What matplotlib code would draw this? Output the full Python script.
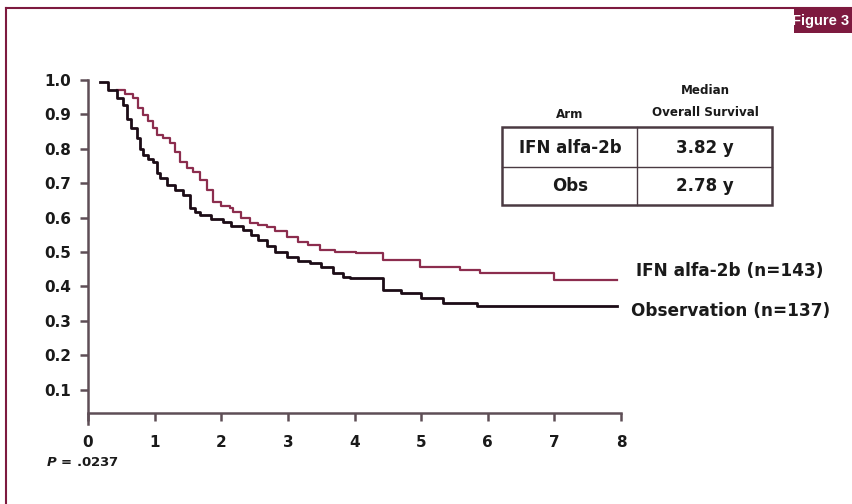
import matplotlib.pyplot as plt
from matplotlib.patches import Rectangle
from matplotlib.lines import Line2D

plt.rcParams['font.family'] = ['DejaVu Sans']
plt.rcParams['font.weight'] = 'bold'

# Observation arm
obs_t = [0.18, 0.30, 0.43, 0.53, 0.58, 0.65, 0.73, 0.78, 0.83, 0.90, 0.98, 1.03,
         1.08, 1.18, 1.30, 1.43, 1.53, 1.60, 1.68, 1.85, 2.03, 2.15, 2.33, 2.45,
         2.55, 2.68, 2.80, 2.98, 3.15, 3.33, 3.50, 3.68, 3.83, 3.93, 4.43, 4.70,
         5.00, 5.33, 5.84, 7.94]
obs_s = [0.995, 0.97, 0.947, 0.927, 0.888, 0.86, 0.83, 0.80, 0.782, 0.77, 0.762, 0.73,
         0.714, 0.695, 0.68, 0.666, 0.627, 0.615, 0.607, 0.595, 0.588, 0.575, 0.564, 0.55,
         0.535, 0.516, 0.50, 0.486, 0.475, 0.467, 0.455, 0.438, 0.428, 0.424, 0.39, 0.38,
         0.365, 0.351, 0.343, 0.343]

# IFN alfa-2b arm
ifn_t = [0.43, 0.55, 0.68, 0.75, 0.83, 0.90, 0.98, 1.03, 1.13, 1.23, 1.30, 1.38,
         1.48, 1.58, 1.68, 1.78, 1.88, 2.00, 2.13, 2.18, 2.30, 2.43, 2.55, 2.68,
         2.80, 2.98, 3.15, 3.30, 3.48, 3.70, 4.03, 4.43, 4.98, 5.59, 5.89, 6.99, 7.94]
ifn_s = [0.971, 0.96, 0.947, 0.92, 0.898, 0.88, 0.86, 0.84, 0.83, 0.816, 0.79, 0.762,
         0.745, 0.733, 0.709, 0.68, 0.646, 0.635, 0.627, 0.617, 0.60, 0.583, 0.578, 0.574,
         0.56, 0.545, 0.53, 0.52, 0.506, 0.50, 0.496, 0.477, 0.457, 0.448, 0.438, 0.42, 0.42]

x_ticks = [0, 1, 2, 3, 4, 5, 6, 7, 8]
y_ticks = [0.1, 0.2, 0.3, 0.4, 0.5, 0.6, 0.7, 0.8, 0.9, 1.0]

table_arm = ['IFN alfa-2b', 'Obs']
table_median = ['3.82 y', '2.78 y']

W, H = 852, 504
maroon = '#7d1a3f'
red = '#8c2d4e'
black = '#1c0c16'
axis_col = '#5e4e56'
txt = '#1a1a1a'


def fx(x):
    return x / W


def fy(y):
    return 1 - y / H


fig = plt.figure(figsize=(8.52, 5.04), dpi=100)
ax = fig.add_axes([fx(88), fy(424), (621 - 88) / W, (424 - 80) / H])

ax.step(ifn_t, ifn_s, where='post', color=red, lw=1.6, clip_on=False)
ax.step(obs_t, obs_s, where='post', color=black, lw=2.0, clip_on=False)

ax.set_xlim(0, 8)
ax.set_ylim(0, 1.0)
ax.set_xticks(x_ticks)
ax.set_yticks(y_ticks)
ax.set_yticklabels(['%.1f' % v for v in y_ticks])
for s in ['top', 'right']:
    ax.spines[s].set_visible(False)
ax.spines['left'].set_bounds(0, 1.0)
ax.spines['bottom'].set_position(('data', 0.032))
for s in ['left', 'bottom']:
    ax.spines[s].set_color(axis_col)
    ax.spines[s].set_linewidth(1.8)
ax.tick_params(axis='both', colors=axis_col, width=1.8, length=6,
               labelcolor=txt, labelsize=11)
ax.tick_params(axis='x', pad=10)
ax.tick_params(axis='y', pad=6)

# curve labels
fig.text(fx(636), fy(271), 'IFN alfa-2b (n=143)', fontsize=12.2, va='center',
         ha='left', color=txt)
fig.text(fx(631), fy(311), 'Observation (n=137)', fontsize=12.2, va='center',
         ha='left', color=txt)

# summary table
tl, tr, tt, tb, tm, th = 502, 772, 127, 205, 637, 167
fig.add_artist(Rectangle((fx(tl), fy(tb)), fx(tr - tl), (tb - tt) / H,
                         transform=fig.transFigure, fill=False,
                         edgecolor='#4a3a42', lw=1.8))
fig.add_artist(Line2D([fx(tm), fx(tm)], [fy(tt), fy(tb)],
                      transform=fig.transFigure, color='#4a3a42', lw=1.0))
fig.add_artist(Line2D([fx(tl), fx(tr)], [fy(th), fy(th)],
                      transform=fig.transFigure, color='#4a3a42', lw=1.0))
fig.text(fx(570), fy(115), 'Arm', fontsize=8.6, ha='center', va='center', color=txt)
fig.text(fx(705), fy(90), 'Median', fontsize=8.6, ha='center', va='center', color=txt)
fig.text(fx(705), fy(113), 'Overall Survival', fontsize=8.6, ha='center',
         va='center', color=txt)
for i, (a, m) in enumerate(zip(table_arm, table_median)):
    yy = 148 + i * 38
    fig.text(fx(570), fy(yy), a, fontsize=12, ha='center', va='center', color=txt)
    fig.text(fx(705), fy(yy), m, fontsize=12, ha='center', va='center', color=txt)

fig.text(fx(46), fy(463), r'$\mathbfit{P}$ = .0237', fontsize=9.5, ha='left',
         va='center', color=txt)

# frame and badge
fig.add_artist(Line2D([fx(6), fx(W)], [fy(8), fy(8)], transform=fig.transFigure,
                      color=maroon, lw=1.5))
fig.add_artist(Line2D([fx(6), fx(6)], [fy(8), fy(H)], transform=fig.transFigure,
                      color=maroon, lw=1.5))
fig.add_artist(Rectangle((fx(794), fy(33)), fx(W - 794), 25 / H,
                         transform=fig.transFigure, color=maroon, lw=0))
fig.text(fx(849), fy(21), 'Figure 3', fontsize=10.5, color='white', ha='right',
         va='center', family=['Liberation Sans'])

fig.savefig('out.png', dpi=100)
